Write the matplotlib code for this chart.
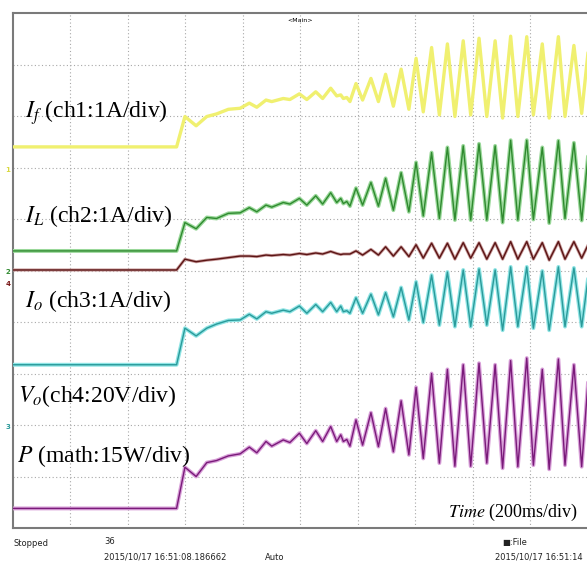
import numpy as np
import matplotlib
matplotlib.use("Agg")
import matplotlib.pyplot as plt

plt.rcParams['font.family'] = ['Liberation Serif', 'DejaVu Serif']
plt.rcParams['mathtext.fontset'] = 'stix'

# time axis in ms (200 ms/div), values in screen divisions
t_step = [0, 569, 598, 637, 674, 708, 749, 790, 822, 848, 880, 900, 940, 963, 996,
          1022, 1053, 1077, 1105, 1126, 1140, 1149, 1161, 1172, 1193, 1216, 1245, 1271]
t_osc = [1296, 1323, 1350, 1377, 1402, 1427, 1456, 1483, 1511, 1537, 1566, 1592, 1621, 1648,
         1677, 1703, 1731, 1756, 1787, 1810, 1841, 1865, 1897, 1920, 1951, 1978, 2005]

i_f = [7.40, 7.40, 7.99, 7.81, 7.99, 8.04, 8.13, 8.15, 8.25, 8.17, 8.31, 8.28, 8.34, 8.32,
       8.43, 8.32, 8.47, 8.34, 8.54, 8.39, 8.41, 8.34, 8.36, 8.28, 8.63, 8.31, 8.73, 8.28,
       8.81, 8.19, 8.91, 8.13, 9.12, 8.08, 9.33, 8.02, 9.40, 7.99, 9.46, 8.02, 9.51, 7.99,
       9.46, 7.96, 9.55, 7.99, 9.54, 8.02, 9.40, 7.96, 9.54, 7.99, 9.37, 8.05, 9.50]
i_l = [5.38, 5.38, 5.93, 5.81, 6.03, 6.01, 6.11, 6.12, 6.22, 6.14, 6.27, 6.23, 6.32, 6.29,
       6.40, 6.27, 6.45, 6.29, 6.51, 6.32, 6.40, 6.30, 6.34, 6.25, 6.60, 6.27, 6.71, 6.25,
       6.79, 6.17, 6.90, 6.14, 7.10, 6.06, 7.29, 6.01, 7.39, 5.98, 7.42, 5.98, 7.46, 5.98,
       7.42, 5.93, 7.53, 5.98, 7.53, 5.99, 7.39, 5.92, 7.52, 6.01, 7.48, 5.97, 7.50]
v_c = [5.01, 5.01, 5.22, 5.17, 5.20, 5.22, 5.25, 5.28, 5.28, 5.27, 5.30, 5.29, 5.31, 5.30,
       5.33, 5.31, 5.34, 5.32, 5.37, 5.33, 5.31, 5.32, 5.32, 5.32, 5.38, 5.30, 5.41, 5.30,
       5.46, 5.28, 5.46, 5.27, 5.50, 5.24, 5.53, 5.24, 5.53, 5.22, 5.54, 5.24, 5.54, 5.22,
       5.54, 5.22, 5.56, 5.22, 5.56, 5.22, 5.54, 5.20, 5.56, 5.22, 5.56, 5.24, 5.55]
i_o = [3.17, 3.17, 3.88, 3.73, 3.88, 3.96, 4.03, 4.04, 4.15, 4.06, 4.20, 4.17, 4.23, 4.20,
       4.31, 4.17, 4.34, 4.20, 4.38, 4.20, 4.31, 4.20, 4.22, 4.17, 4.47, 4.17, 4.54, 4.14,
       4.57, 4.10, 4.67, 4.04, 4.78, 3.99, 4.91, 3.94, 4.97, 3.91, 5.01, 3.91, 5.03, 3.94,
       5.01, 3.84, 5.07, 3.91, 5.07, 3.88, 4.99, 3.84, 5.07, 3.91, 5.05, 3.91, 5.05]
p_m = [0.38, 0.38, 1.18, 1.00, 1.27, 1.31, 1.40, 1.44, 1.57, 1.46, 1.68, 1.59, 1.71, 1.66,
       1.84, 1.64, 1.89, 1.68, 1.97, 1.68, 1.81, 1.68, 1.72, 1.59, 2.10, 1.61, 2.24, 1.58,
       2.32, 1.48, 2.47, 1.42, 2.73, 1.35, 3.00, 1.26, 3.08, 1.20, 3.17, 1.20, 3.20, 1.26,
       3.17, 1.16, 3.25, 1.19, 3.30, 1.22, 3.08, 1.14, 3.28, 1.22, 3.17, 1.19, 3.20]

t = np.array(t_step + t_osc)

W, H = 587, 563
fig = plt.figure(figsize=(W / 100, H / 100), dpi=100)
ax = fig.add_axes([13 / W, 35 / H, 575 / W, 515 / H])
ax.set_xlim(0, 2000)
ax.set_ylim(0, 10)

# scope graticule
for gx in range(200, 2000, 200):
    ax.axvline(gx, color='#a8a8a8', lw=0.8, ls=(0, (1, 2.2)), zorder=1)
for gy in range(1, 10):
    ax.axhline(gy, color='#a8a8a8', lw=0.8, ls=(0, (1, 2.2)), zorder=1)

# traces: light halo + darker core
kw = dict(solid_joinstyle='round', solid_capstyle='round')
ax.plot(t, i_f, color='#f0f070', lw=2.4, zorder=3, **kw)
ax.plot(t, i_l, color='#9ad89a', lw=2.8, zorder=3, **kw)
ax.plot(t, i_l, color='#2f8a2f', lw=1.0, zorder=4, **kw)
ax.plot(t, v_c, color='#c89a9a', lw=2.2, zorder=3, **kw)
ax.plot(t, v_c, color='#5a1414', lw=1.0, zorder=4, **kw)
ax.plot(t, i_o, color='#8ee4e4', lw=2.8, zorder=3, **kw)
ax.plot(t, i_o, color='#2a9a9a', lw=1.0, zorder=4, **kw)
ax.plot(t, p_m, color='#d8a0d8', lw=2.8, zorder=3, **kw)
ax.plot(t, p_m, color='#7a1a7a', lw=1.0, zorder=4, **kw)

ax.set_xticks([])
ax.set_yticks([])
for s in ['top', 'left', 'bottom']:
    ax.spines[s].set_color('#7a7a7a')
    ax.spines[s].set_linewidth(1.5)
ax.spines['right'].set_visible(False)

lab = dict(fontsize=17, color='black', va='baseline', ha='left', zorder=6)
ax.text(42, 7.96, r'$I_f$ (ch1:1A/div)', **lab)
ax.text(42, 5.95, r'$I_L$ (ch2:1A/div)', **lab)
ax.text(42, 4.30, r'$I_o$ (ch3:1A/div)', **lab)
ax.text(18, 2.45, r'$V_o$(ch4:20V/div)', **lab)
ax.text(13, 1.29, r'$P$ (math:15W/div)', **lab)
ax.text(1514, 0.22, r'$Time$ (200ms/div)', fontsize=13, va='baseline', ha='left', zorder=6)

ax.text(0.5, 0.985, '<Main>', transform=ax.transAxes, fontsize=4.5,
        family='DejaVu Sans', ha='center', va='center')

# channel markers on the left edge
mk = dict(family='DejaVu Sans', fontsize=5, ha='center', va='center', fontweight='bold')
fig.text(8 / W, 1 - 170 / H, '1', color='#d8d840', **mk)
fig.text(8 / W, 1 - 272 / H, '2', color='#2f8a2f', **mk)
fig.text(8 / W, 1 - 284 / H, '4', color='#7a1a1a', **mk)
fig.text(8 / W, 1 - 427 / H, '3', color='#2a9a9a', **mk)

st = dict(family='DejaVu Sans', fontsize=6.0, color='#222222', va='center', ha='left')
fig.text(13 / W, 1 - 543 / H, 'Stopped', **st)
fig.text(104 / W, 1 - 542 / H, '36', **st)
fig.text(104 / W, 1 - 557 / H, '2015/10/17 16:51:08.186662', **st)
fig.text(265 / W, 1 - 557 / H, 'Auto', **st)
fig.text(502 / W, 1 - 543 / H, '\u25a0:File', **st)
fig.text(495 / W, 1 - 557 / H, '2015/10/17 16:51:14', **st)

fig.savefig('out.png', dpi=100)
